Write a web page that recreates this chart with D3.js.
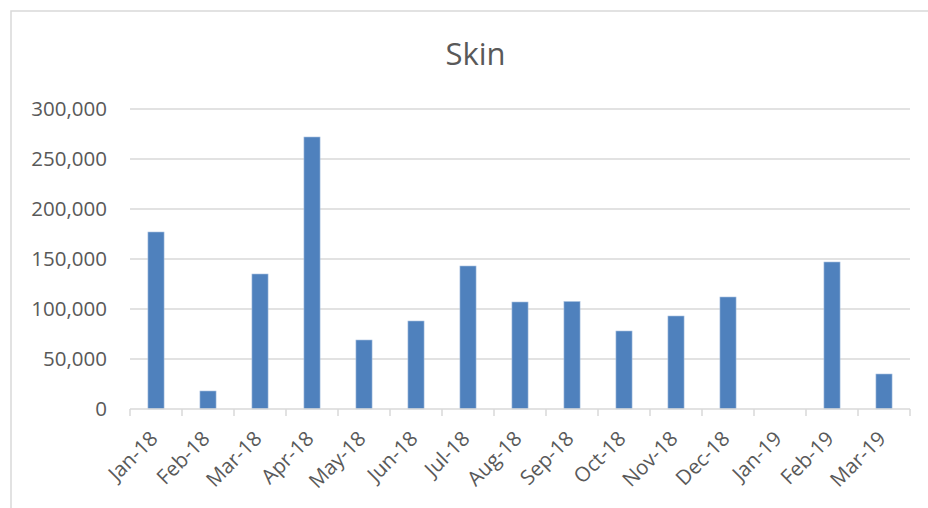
<!DOCTYPE html>
<html>
<head>
<meta charset="utf-8">
<script src="https://cdn.jsdelivr.net/npm/d3@7"></script>
<style>
  html, body { margin: 0; padding: 0; background: #fff; }
  svg { display: block; }
</style>
</head>
<body>
<svg id="chart" width="928" height="508"></svg>
<script>
const title = "Skin";
const categories = ["Jan-18","Feb-18","Mar-18","Apr-18","May-18","Jun-18","Jul-18","Aug-18","Sep-18","Oct-18","Nov-18","Dec-18","Jan-19","Feb-19","Mar-19"];
const values = [177000, 18000, 135000, 272000, 69000, 88000, 143000, 107000, 107500, 78000, 93000, 112000, 0, 147000, 35000];
const yTicks = [0, 50000, 100000, 150000, 200000, 250000, 300000];

const svg = d3.select("#chart");
const font = "'Open Sans', 'Noto Sans', sans-serif";
const textColor = "#595959";
const gridColor = "#d9d9d9";

// outer chart border (left and top visible)
svg.append("path")
  .attr("d", "M11,508 L11,11 L928,11")
  .attr("fill", "none")
  .attr("stroke", gridColor)
  .attr("stroke-width", 1.5);

const plot = { left: 130, right: 910, top: 109, bottom: 409 };

const x = d3.scaleBand()
  .domain(categories)
  .range([plot.left, plot.right])
  .paddingInner(0.69)
  .paddingOuter(0.345);

const xOuter = d3.scaleBand()
  .domain(categories)
  .range([plot.left, plot.right]);

const y = d3.scaleLinear()
  .domain([0, 300000])
  .range([plot.bottom, plot.top]);

// gridlines
svg.append("g")
  .selectAll("line")
  .data(yTicks.filter(d => d > 0))
  .join("line")
  .attr("x1", plot.left)
  .attr("x2", plot.right)
  .attr("y1", d => y(d))
  .attr("y2", d => y(d))
  .attr("stroke", gridColor)
  .attr("stroke-width", 1.3);

// y axis labels
const yAxis = d3.axisLeft(y).tickValues(yTicks).tickSize(0).tickPadding(0)
  .tickFormat(d3.format(","));
svg.append("g")
  .attr("transform", `translate(${plot.left - 23},0)`)
  .call(yAxis)
  .call(g => g.select(".domain").remove())
  .call(g => g.selectAll("text")
    .attr("fill", textColor)
    .style("font-family", font)
    .style("font-size", "20.5px"));

// bars
svg.append("g")
  .selectAll("rect")
  .data(values)
  .join("rect")
  .attr("x", (d, i) => x(categories[i]))
  .attr("width", x.bandwidth())
  .attr("y", d => y(d))
  .attr("height", d => y(0) - y(d))
  .attr("fill", "#4f81bd")
  .attr("stroke", "#a9c1e0")
  .attr("stroke-width", 0.6);

// x axis baseline and ticks
const xAxisG = svg.append("g");
xAxisG.append("line")
  .attr("x1", plot.left).attr("x2", plot.right)
  .attr("y1", y(0)).attr("y2", y(0))
  .attr("stroke", gridColor).attr("stroke-width", 1.5);
const tickPos = categories.map(c => xOuter(c)).concat([plot.right]);
xAxisG.selectAll("line.tick")
  .data(tickPos)
  .join("line")
  .attr("class", "tick")
  .attr("x1", d => d).attr("x2", d => d)
  .attr("y1", y(0)).attr("y2", y(0) + 7)
  .attr("stroke", gridColor).attr("stroke-width", 1.5);

// x labels
xAxisG.selectAll("text")
  .data(categories)
  .join("text")
  .attr("transform", d => `translate(${xOuter(d) + xOuter.bandwidth() / 2 + 3},${y(0) + 31}) rotate(-45)`)
  .attr("text-anchor", "end")
  .attr("fill", textColor)
  .style("font-family", font)
  .style("font-size", "20.5px")
  .text(d => d);

// title
svg.append("text")
  .attr("x", 475.5)
  .attr("y", 65)
  .attr("text-anchor", "middle")
  .attr("fill", textColor)
  .style("font-family", font)
  .style("font-size", "31px")
  .text(title);
</script>
</body>
</html>
